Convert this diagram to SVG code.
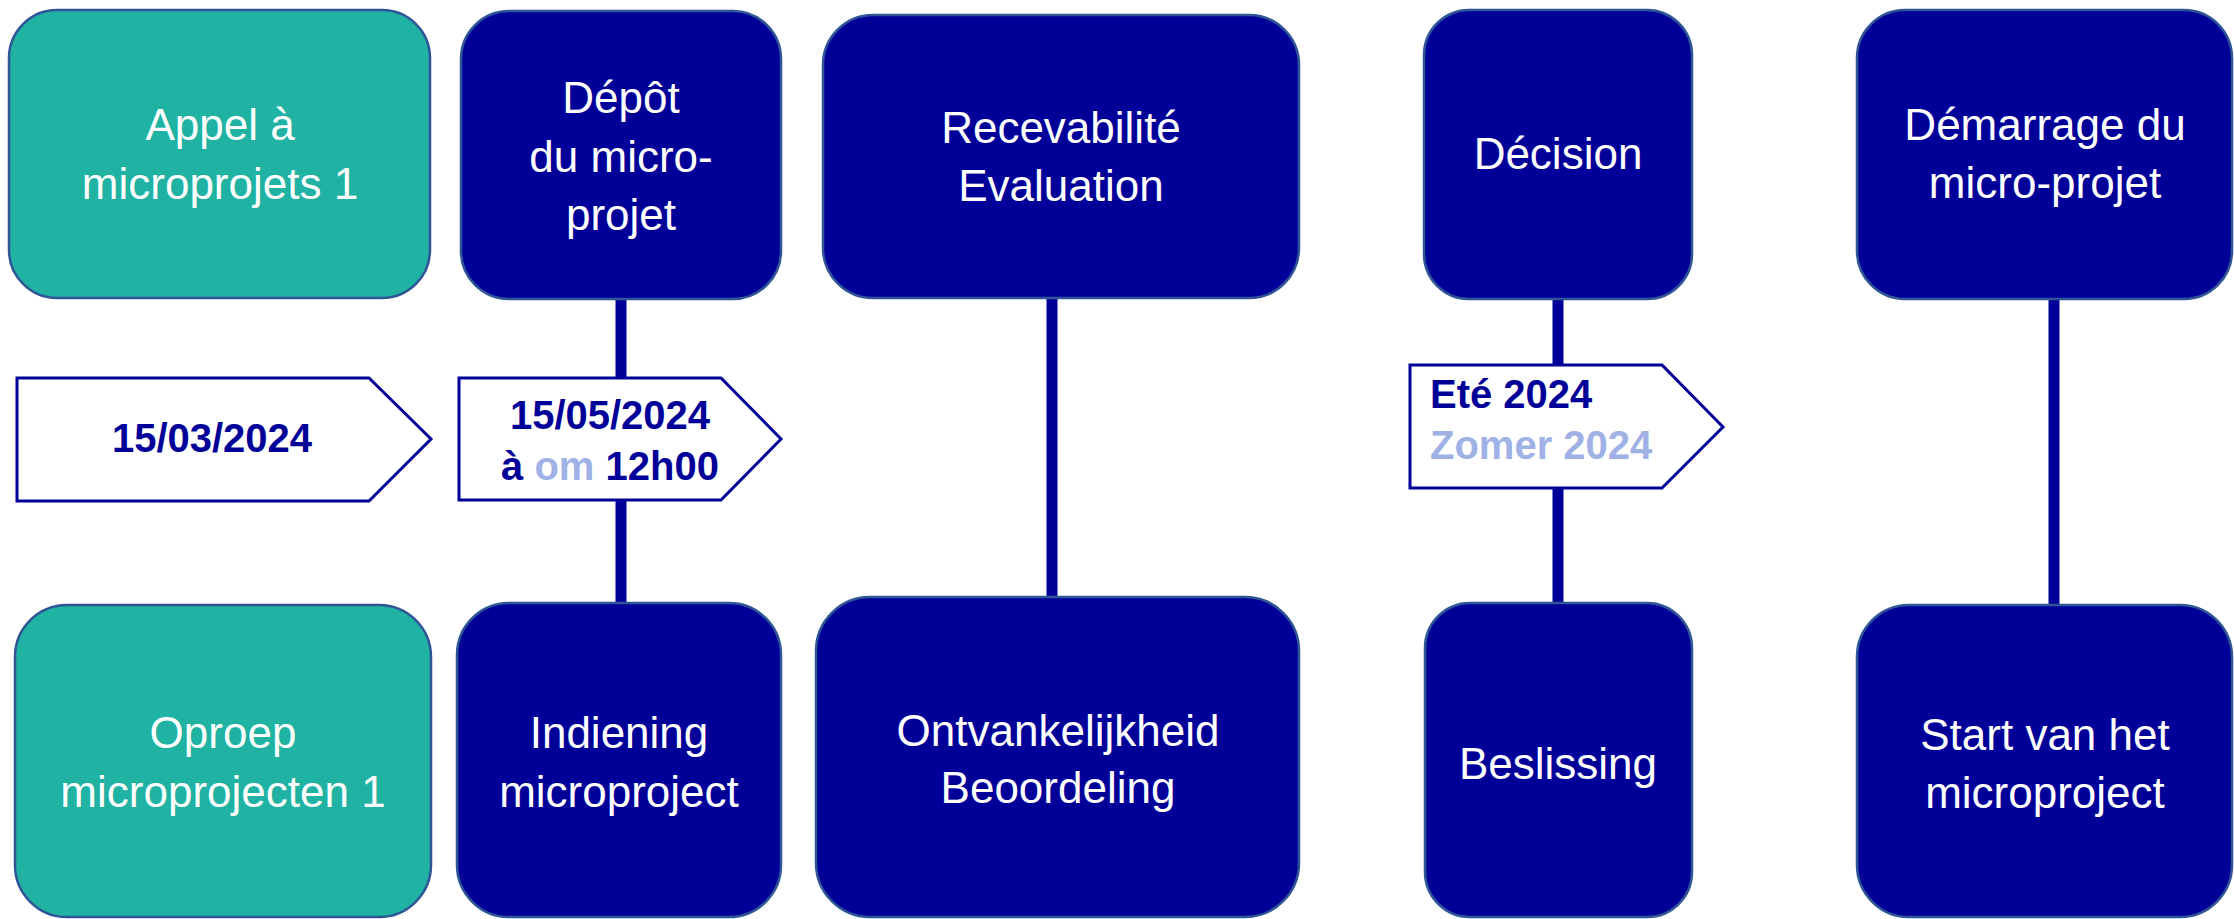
<svg xmlns="http://www.w3.org/2000/svg" width="2234" height="919" viewBox="0 0 2234 919">
<style>
.box{fill:#000099;stroke:#2F5597;stroke-width:2.5}
.teal{fill:#20B2A2;stroke:#2F5597;stroke-width:2.5}
.tag{fill:#FFFFFF;stroke:#000099;stroke-width:3}
.lbl{font-family:"Liberation Sans",Arial,sans-serif;font-size:44px;fill:#FFFFFF;text-anchor:middle}
.date{font-family:"Liberation Sans",Arial,sans-serif;font-size:40px;font-weight:bold;fill:#000099}
.light{fill:#A0B1E6}
.conn{stroke:#000099;stroke-width:11;fill:none}
</style>
<rect width="2234" height="919" fill="#FFFFFF"/>
<g id="connectors">
<line class="conn" x1="621" y1="298" x2="621" y2="604"/>
<line class="conn" x1="1052" y1="297" x2="1052" y2="598"/>
<line class="conn" x1="1558" y1="298" x2="1558" y2="604"/>
<line class="conn" x1="2054" y1="298" x2="2054" y2="606"/>
</g>
<g id="appel">
<rect class="teal" x="9" y="10" width="421" height="288" rx="48"/>
<text class="lbl"><tspan x="220" y="140">Appel à</tspan><tspan x="220" y="199">microprojets 1</tspan></text>
</g>
<g id="depot">
<rect class="box" x="461" y="11" width="320" height="288" rx="48"/>
<text class="lbl"><tspan x="621" y="113">Dépôt</tspan><tspan x="621" y="172">du micro-</tspan><tspan x="621" y="230">projet</tspan></text>
</g>
<g id="recevabilite">
<rect class="box" x="823" y="15" width="476" height="283" rx="50"/>
<text class="lbl"><tspan x="1061" y="143">Recevabilité</tspan><tspan x="1061" y="201">Evaluation</tspan></text>
</g>
<g id="decision">
<rect class="box" x="1424" y="10" width="268" height="289" rx="45"/>
<text class="lbl" x="1558" y="169">Décision</text>
</g>
<g id="demarrage">
<rect class="box" x="1857" y="10" width="375" height="289" rx="48"/>
<text class="lbl"><tspan x="2045" y="140">Démarrage du</tspan><tspan x="2045" y="198">micro-projet</tspan></text>
</g>
<g id="oproep">
<rect class="teal" x="15" y="605" width="416" height="312" rx="52"/>
<text class="lbl"><tspan x="223" y="748">Oproep</tspan><tspan x="223" y="807">microprojecten 1</tspan></text>
</g>
<g id="indiening">
<rect class="box" x="457" y="603" width="324" height="314" rx="52"/>
<text class="lbl"><tspan x="619" y="748">Indiening</tspan><tspan x="619" y="807">microproject</tspan></text>
</g>
<g id="ontvankelijkheid">
<rect class="box" x="816" y="597" width="483" height="320" rx="54"/>
<text class="lbl"><tspan x="1058" y="746">Ontvankelijkheid</tspan><tspan x="1058" y="803">Beoordeling</tspan></text>
</g>
<g id="beslissing">
<rect class="box" x="1425" y="603" width="267" height="314" rx="45"/>
<text class="lbl" x="1558" y="779">Beslissing</text>
</g>
<g id="start">
<rect class="box" x="1857" y="605" width="375" height="312" rx="52"/>
<text class="lbl"><tspan x="2045" y="750">Start van het</tspan><tspan x="2045" y="808">microproject</tspan></text>
</g>
<g id="date1">
<polygon class="tag" points="17,378 369,378 431,439 369,501 17,501"/>
<text class="date" x="212" y="452" text-anchor="middle">15/03/2024</text>
</g>
<g id="date2">
<polygon class="tag" points="459,378 721,378 781,439 721,500 459,500"/>
<text class="date" text-anchor="middle"><tspan x="610" y="429">15/05/2024</tspan><tspan x="610" y="480">à <tspan class="light">om</tspan> 12h00</tspan></text>
</g>
<g id="date3">
<polygon class="tag" points="1410,365 1662,365 1723,427 1662,488 1410,488"/>
<text class="date"><tspan x="1430" y="408">Eté 2024</tspan><tspan class="light" x="1430" y="459">Zomer 2024</tspan></text>
</g>
</svg>
